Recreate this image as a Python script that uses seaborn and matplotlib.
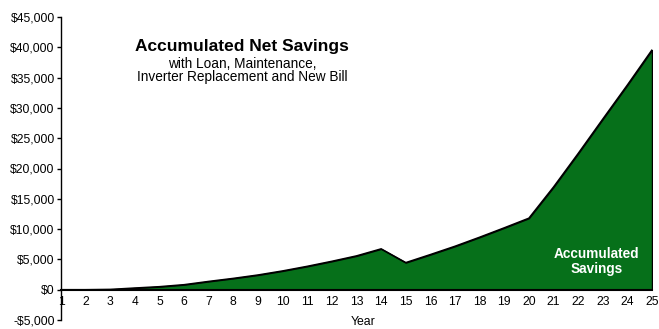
import matplotlib
matplotlib.use('Agg')
import matplotlib.pyplot as plt
import seaborn as sns
import pandas as pd
from matplotlib.ticker import FuncFormatter, FixedLocator

years = list(range(1, 26))
savings = [0, 0, 50, 280, 500, 830, 1370, 1870, 2430, 3100, 3860, 4690, 5580,
           6740, 4470, 5800, 7170, 8660, 10210, 11800, 16940, 22470, 28150,
           33780, 39570]
y_ticks = list(range(-5000, 45001, 5000))
title = "Accumulated Net Savings"
subtitle_lines = ["with Loan, Maintenance,", "Inverter Replacement and New Bill"]
area_label = ["Accumulated", "Savings"]

sns.set_theme(style='white')
plt.rcParams['font.family'] = ['Liberation Sans', 'DejaVu Sans']

W, H = 659, 329
fig = plt.figure(figsize=(W / 100, H / 100), dpi=100)
ax = fig.add_axes([61 / W, 1 - 320 / H, (652 - 61) / W, (320 - 17) / H])

df = pd.DataFrame({'Year': years, 'Savings': savings})
ax.fill_between(df['Year'], 0, df['Savings'], facecolor='#06701A',
                edgecolor='black', linewidth=1.0, zorder=2)
sns.lineplot(data=df, x='Year', y='Savings', color='black', linewidth=1.1,
             ax=ax, zorder=3)

ax.set_xlim(1, 25)
ax.set_ylim(-5000, 45000)
ax.xaxis.set_major_locator(FixedLocator(years))
ax.yaxis.set_major_locator(FixedLocator(y_ticks))
ax.yaxis.set_major_formatter(FuncFormatter(
    lambda v, p: f"-${abs(v):,.0f}" if v < 0 else f"${v:,.0f}"))

for s in ['top', 'right']:
    ax.spines[s].set_visible(False)
ax.spines['bottom'].set_position(('data', 0))
ax.spines['bottom'].set_color('black')
ax.spines['bottom'].set_linewidth(1.5)
ax.spines['bottom'].set_zorder(4)
ax.spines['left'].set_color('black')
ax.spines['left'].set_linewidth(1.0)

ax.tick_params(axis='x', length=0, pad=4.5, labelsize=8.7, colors='black')
ax.tick_params(axis='y', length=3, width=1, direction='out', pad=1.5,
               labelsize=8.7, colors='black', left=True)

ax.set_xlabel('Year', fontsize=8.8, color='black')
ax.set_ylabel('')
ax.xaxis.set_label_coords((363 - 61) / 591, -2 / 303)
ax.xaxis.label.set_va('center')

fig.text(242 / W, 1 - 47 / H, title, ha='center', va='center',
         fontsize=12.5, fontweight='bold', color='black')
fig.text(242 / W, 1 - 63.5 / H, subtitle_lines[0], ha='center', va='center',
         fontsize=9.8, color='black')
fig.text(242 / W, 1 - 76.5 / H, subtitle_lines[1], ha='center', va='center',
         fontsize=9.8, color='black')

fig.text(596.5 / W, 1 - 253.5 / H, area_label[0], ha='center', va='center',
         fontsize=9.8, fontweight='bold', color='white')
fig.text(596.5 / W, 1 - 268.5 / H, area_label[1], ha='center', va='center',
         fontsize=9.8, fontweight='bold', color='white')

fig.savefig('out.png', dpi=100)
